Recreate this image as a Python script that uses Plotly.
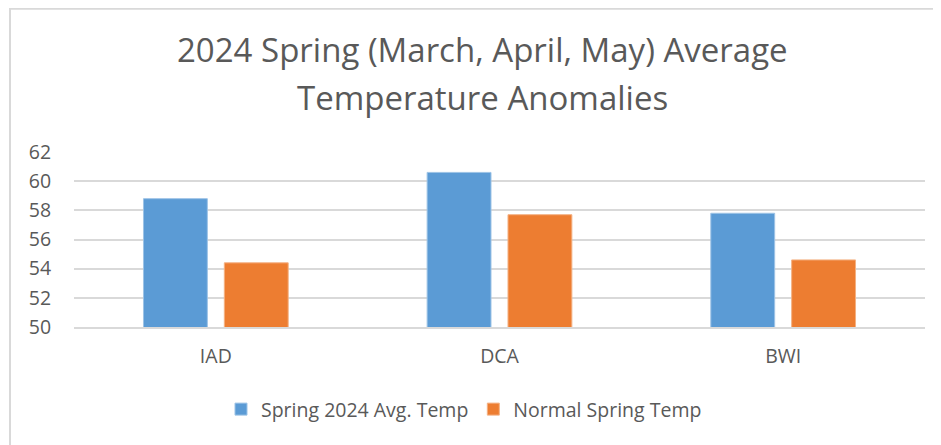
import plotly.graph_objects as go

categories = ["IAD", "DCA", "BWI"]
spring_2024 = [58.8, 60.6, 57.8]
normal_spring = [54.4, 57.7, 54.6]
series_names = ["Spring 2024 Avg. Temp", "Normal Spring Temp"]
y_ticks = [50, 52, 54, 56, 58, 60, 62]
title_lines = ["2024 Spring (March, April, May) Average", "Temperature Anomalies"]

# page has an 8px body margin; figure coordinates below are page coords - 8
W, H = 933, 437
L, R, T = 66, 16, 144
B = H - 318.7
pw = W - L - R
ph = H - T - B

FONT = "Open Sans"
TXT = "#595959"
GRID = "#d9d9d9"


def px_x(p):
    return (p - L) / pw


def px_y(p):
    return (H - B - p) / ph


fig = go.Figure()
fig.add_trace(go.Bar(name=series_names[0], x=categories, y=spring_2024,
                     marker=dict(color="#5B9BD5", line=dict(color="#9dc3e6", width=1))))
fig.add_trace(go.Bar(name=series_names[1], x=categories, y=normal_spring,
                     marker=dict(color="#ED7D31", line=dict(color="#f4b183", width=1))))

annotations = [
    dict(text=title_lines[0], xref="paper", yref="paper", x=px_x(474), y=px_y(42),
         xanchor="center", yanchor="middle", showarrow=False,
         font=dict(family=FONT, size=33, color=TXT)),
    dict(text=title_lines[1], xref="paper", yref="paper", x=px_x(474), y=px_y(90),
         xanchor="center", yanchor="middle", showarrow=False,
         font=dict(family=FONT, size=33, color=TXT)),
]

fig.update_layout(
    width=W, height=H, autosize=False,
    margin=dict(l=L, r=R, t=T, b=B),
    paper_bgcolor="white", plot_bgcolor="white",
    barmode="group", bargap=0.43, bargroupgap=0.21,
    font=dict(family=FONT, color=TXT),
    annotations=annotations,
    legend=dict(orientation="h", x=px_x(456), xanchor="center",
                y=px_y(401), yanchor="middle",
                font=dict(family=FONT, size=19.5, color=TXT),
                itemwidth=30, traceorder="normal"),
    xaxis=dict(showgrid=False, showline=True, linecolor=GRID, linewidth=1.5,
               ticks="outside", ticklen=11, tickcolor="rgba(0,0,0,0)",
               tickfont=dict(family=FONT, size=19.5, color=TXT)),
    yaxis=dict(range=[50, 62], tickvals=y_ticks, showgrid=True, gridcolor=GRID,
               gridwidth=1.5, zeroline=False, showline=False,
               ticks="outside", ticklen=18, tickcolor="rgba(0,0,0,0)",
               tickfont=dict(family=FONT, size=19.5, color=TXT)),
    shapes=[dict(type="rect", xref="paper", yref="paper",
                 x0=px_x(2), x1=px_x(W + 20), y0=px_y(H + 20), y1=px_y(1),
                 line=dict(color=GRID, width=2), layer="below")],
)

fig.write_html("out.html")
